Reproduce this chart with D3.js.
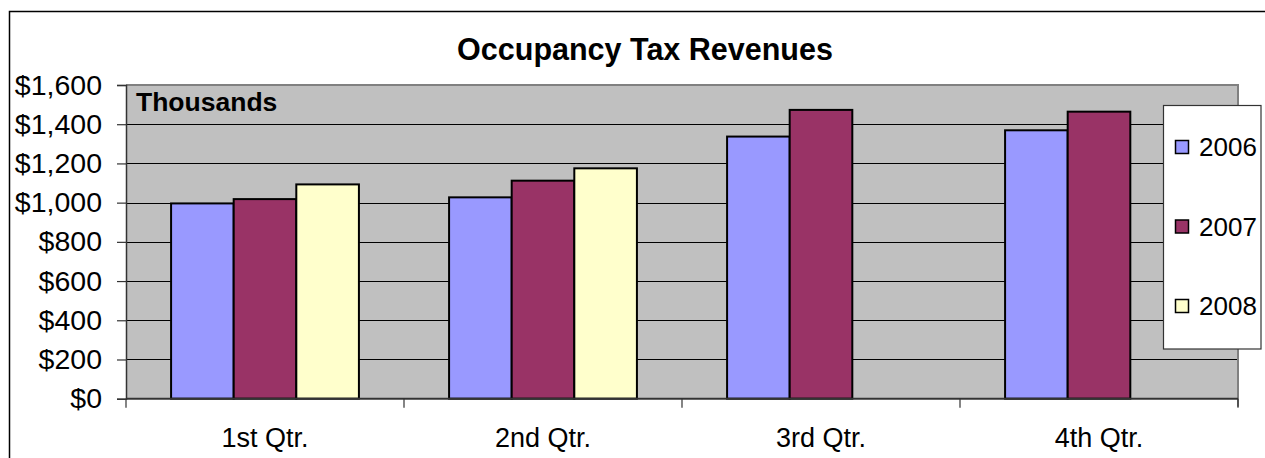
<!DOCTYPE html>
<html>
<head>
<meta charset="utf-8">
<script src="https://cdn.jsdelivr.net/npm/d3@7"></script>
<style>
  body { margin: 0; background: #fff; }
  svg { display: block; font-family: "Liberation Sans", Arial, sans-serif; }
</style>
</head>
<body>
<svg width="1265" height="458"></svg>
<script>
// Datos del gráfico
const quarters = ["1st Qtr.", "2nd Qtr.", "3rd Qtr.", "4th Qtr."];
const years = ["2006", "2007", "2008"];
const values2006 = [996, 1027, 1337, 1369];
const values2007 = [1018, 1112, 1473, 1464];
const values2008 = [1093, 1175, null, null];
const yTicks = [0, 200, 400, 600, 800, 1000, 1200, 1400, 1600];
const colors = ["#9999FF", "#993366", "#FFFFCC"];

const series = [values2006, values2007, values2008];
const rows = [];
quarters.forEach((q, i) => {
  years.forEach((yr, j) => {
    if (series[j][i] != null) rows.push({ quarter: q, year: yr, value: series[j][i] });
  });
});

const svg = d3.select("svg");

// marco exterior
svg.append("rect")
  .attr("x", 9.5).attr("y", 11.5)
  .attr("width", 1300).attr("height", 500)
  .attr("fill", "#fff").attr("stroke", "#000").attr("stroke-width", 1.5);

const plot = { left: 126, right: 1238, top: 85, bottom: 398.7 };

const x0 = d3.scaleBand().domain(quarters).range([plot.left, plot.right]);
const x1 = d3.scaleBand().domain(years).range([0, x0.bandwidth()])
  .paddingInner(0).paddingOuter(0.72);
const y = d3.scaleLinear().domain([0, 1600]).range([plot.bottom, plot.top]);

// fondo del área de trazado
svg.append("rect")
  .attr("x", plot.left).attr("y", plot.top)
  .attr("width", plot.right - plot.left).attr("height", plot.bottom - plot.top)
  .attr("fill", "#C0C0C0");

// líneas de cuadrícula
svg.append("g")
  .selectAll("line")
  .data(yTicks.slice(1, -1))
  .enter().append("line")
  .attr("x1", plot.left).attr("x2", plot.right)
  .attr("y1", d => Math.round(y(d)) + 0.5).attr("y2", d => Math.round(y(d)) + 0.5)
  .attr("stroke", "#000").attr("stroke-width", 1);

// borde gris superior y derecho
svg.append("path")
  .attr("d", `M${plot.left},${plot.top} H${plot.right} V${plot.bottom + 8}`)
  .attr("fill", "none").attr("stroke", "#808080").attr("stroke-width", 2);

// barras
svg.append("g")
  .selectAll("rect")
  .data(rows)
  .enter().append("rect")
  .attr("x", d => x0(d.quarter) + x1(d.year))
  .attr("y", d => y(d.value))
  .attr("width", x1.bandwidth())
  .attr("height", d => y(0) - y(d.value))
  .attr("fill", d => colors[years.indexOf(d.year)])
  .attr("stroke", "#000").attr("stroke-width", 2);

// eje Y
const yAxis = d3.axisLeft(y)
  .tickValues(yTicks)
  .tickSize(9)
  .tickPadding(15)
  .tickFormat(d => "$" + d3.format(",")(d));
const gy = svg.append("g")
  .attr("transform", `translate(${plot.left},0)`)
  .call(yAxis);
gy.select(".domain").attr("stroke", "#333").attr("stroke-width", 1.5);
gy.selectAll(".tick line").attr("stroke", "#333").attr("stroke-width", 1.2);
gy.selectAll("text").attr("font-size", 28.5).attr("fill", "#000")
  .attr("font-family", "'Liberation Sans', Arial, sans-serif");

// eje X
const xTickPos = quarters.map(q => x0(q)).concat([plot.right]);
svg.append("line")
  .attr("x1", plot.left).attr("x2", plot.right)
  .attr("y1", plot.bottom).attr("y2", plot.bottom)
  .attr("stroke", "#333").attr("stroke-width", 2);
svg.append("g")
  .selectAll("line")
  .data(xTickPos)
  .enter().append("line")
  .attr("x1", d => d).attr("x2", d => d)
  .attr("y1", plot.bottom).attr("y2", plot.bottom + 9)
  .attr("stroke", "#333").attr("stroke-width", 1.2);
svg.append("g")
  .selectAll("text")
  .data(quarters)
  .enter().append("text")
  .attr("x", d => x0(d) + x0.bandwidth() / 2)
  .attr("y", 447)
  .attr("text-anchor", "middle")
  .attr("font-size", 27)
  .text(d => d);

// títulos
svg.append("text")
  .attr("x", 645).attr("y", 60)
  .attr("text-anchor", "middle")
  .attr("font-size", 30.5).attr("font-weight", "bold")
  .text("Occupancy Tax Revenues");
svg.append("text")
  .attr("x", 136).attr("y", 111)
  .attr("font-size", 26.5).attr("font-weight", "bold")
  .text("Thousands");

// leyenda
const legend = svg.append("g");
legend.append("rect")
  .attr("x", 1163.5).attr("y", 105.5)
  .attr("width", 97.5).attr("height", 243.5)
  .attr("fill", "#fff").attr("stroke", "#333").attr("stroke-width", 1.2);
const item = legend.selectAll(".item")
  .data(years)
  .enter().append("g")
  .attr("class", "item")
  .attr("transform", (d, i) => `translate(0,${147 + i * 79.5})`);
item.append("rect")
  .attr("x", 1175.5).attr("y", -6.5)
  .attr("width", 13).attr("height", 13)
  .attr("fill", (d, i) => colors[i])
  .attr("stroke", "#000").attr("stroke-width", 1.5);
item.append("text")
  .attr("x", 1199).attr("y", 0)
  .attr("dy", "0.36em")
  .attr("font-size", 26)
  .text(d => d);
</script>
</body>
</html>
